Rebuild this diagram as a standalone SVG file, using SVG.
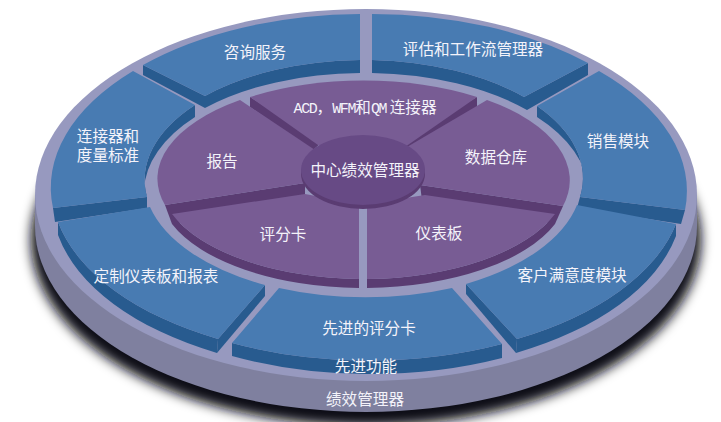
<svg xmlns="http://www.w3.org/2000/svg" width="721" height="422" viewBox="0 0 721 422">
<defs>
<filter id="blur" x="-10%" y="-10%" width="120%" height="125%"><feGaussianBlur stdDeviation="6"/></filter>
</defs>
<style>
.b{fill:#487bb2}.bd{fill:#285b8f}.p{fill:#785c94}.pd{fill:#5a3c72}.c{fill:#674a85}.cd{fill:#5a3c72}
text{font-family:"Noto Sans CJK SC","Liberation Sans",sans-serif;font-size:15.6px;fill:#f4f3fa;text-anchor:middle}
.m{font-family:"Liberation Mono",monospace;font-size:15px;letter-spacing:-1.3px}
</style>
<rect width="721" height="422" fill="#ffffff"/>
<g id="disc">
<ellipse cx="366" cy="240" rx="335" ry="186" fill="#111116" filter="url(#blur)"/>
<path d="M35 195V226A331 186 0 0 0 697 226V195Z" fill="#7f809f"/>
<ellipse cx="366" cy="195" rx="331" ry="186" fill="#9799bf"/>
</g>
<g id="blue-sides">
<path class="bd" d="M143 65V75L205 108A222 118 0 0 1 360 73V60A222 118 0 0 0 205 96Z"/>
<path class="bd" d="M372 60V73A222 118 0 0 1 527 110L588 75V63L524 97A222 118 0 0 0 372 60Z"/>
<path class="bd" d="M537 106V117A222 118 0 0 1 588 190L580 197A222 118 0 0 0 537 106Z"/>
<path class="bd" d="M580 197L577 208L681 224L685 210Z"/>
<path class="bd" d="M676 224V236A311 172 0 0 1 516 353L517 339A311 172 0 0 0 676 224Z"/>
<path class="bd" d="M466 284V294L516 353L517 339Z"/>
<path class="bd" d="M232 343V356A311 172 0 0 0 502 358V344A311 172 0 0 1 232 343Z"/>
<path class="bd" d="M58 222V235A311 172 0 0 0 217 353L218 339A311 172 0 0 1 58 222Z"/>
<path class="bd" d="M265 285V296L217 353L218 339Z"/>
<path class="bd" d="M195 105V117A222 118 0 0 0 144 190L147 197A222 118 0 0 1 195 105Z"/>
<path class="bd" d="M147 197V208L55 222L53 208Z"/>
</g>
<g id="consulting"><path class="b" d="M143 65A311 172 0 0 1 360 14V60A222 118 0 0 0 205 96Z"/><text x="255" y="58">咨询服务</text></g>
<g id="evaluation"><path class="b" d="M372 14A311 172 0 0 1 588 63L524 97A222 118 0 0 0 372 60Z"/><text x="473" y="55">评估和工作流管理器</text></g>
<g id="sales"><path class="b" d="M599 71A311 172 0 0 1 685 210L580 197A222 118 0 0 0 537 106Z"/><text x="618" y="147">销售模块</text></g>
<g id="customer"><path class="b" d="M676 224A311 172 0 0 1 517 339L466 284A222 118 0 0 0 577 205Z"/><text x="572" y="281">客户满意度模块</text></g>
<g id="scorecard"><path class="b" d="M452 288L502 344A311 172 0 0 1 232 343L279 288A222 118 0 0 0 452 288Z"/><text x="369" y="334">先进的评分卡</text></g>
<g id="dashboards"><path class="b" d="M265 285L218 339A311 172 0 0 1 58 222L150 207A222 118 0 0 0 265 285Z"/><text x="156" y="282">定制仪表板和报表</text></g>
<g id="connectors-metrics"><path class="b" d="M133 71L195 105A222 118 0 0 0 147 197L53 208A311 172 0 0 1 133 71Z"/><text><tspan x="108" y="142">连接器和</tspan><tspan x="108" y="161">度量标准</tspan></text></g>
<g id="purple-sides">
<path class="pd" d="M250 97V107L312 151L322 142Z"/>
<path class="pd" d="M477 97V107L405 150L400 142Z"/>
<path class="pd" d="M165 205L172 224L305 200V183Z"/>
<path class="pd" d="M420 185L422 200L555 224L563 206Z"/>
<path class="pd" d="M172 214V224A205 98 0 0 0 359 288V279A205 98 0 0 1 172 214Z"/>
<path class="pd" d="M367 279V288A205 98 0 0 0 555 224V214A205 98 0 0 1 367 279Z"/>
</g>
<g id="acd"><path class="p" d="M250 97A205 98 0 0 1 477 97L405 147L318 145Z"/><text x="365" y="113"><tspan class="m">ACD</tspan>，<tspan class="m">WFM</tspan>和<tspan class="m">QM</tspan> 连接器</text></g>
<g id="reports"><path class="p" d="M240 100L318 152L305 183L165 205A205 98 0 0 1 240 100Z"/><text x="222" y="167">报告</text></g>
<g id="warehouse"><path class="p" d="M487 100A194 98 0 0 1 563 206L420 185L407 147Z"/><text x="496" y="163">数据仓库</text></g>
<g id="scorecards"><path class="p" d="M172 214L305 194L359 204V279A205 98 0 0 1 172 214Z"/><text x="283" y="240">评分卡</text></g>
<g id="instruments"><path class="p" d="M367 204L425 195L555 214A205 98 0 0 1 367 279Z"/><text x="439" y="239">仪表板</text></g>
<g id="center">
<ellipse class="cd" cx="363" cy="174" rx="62" ry="35"/>
<ellipse class="c" cx="363" cy="170" rx="62" ry="35"/>
<text x="365" y="176">中心绩效管理器</text>
</g>
<g id="labels"><text x="366" y="372">先进功能</text><text x="365" y="405">绩效管理器</text></g>
</svg>
